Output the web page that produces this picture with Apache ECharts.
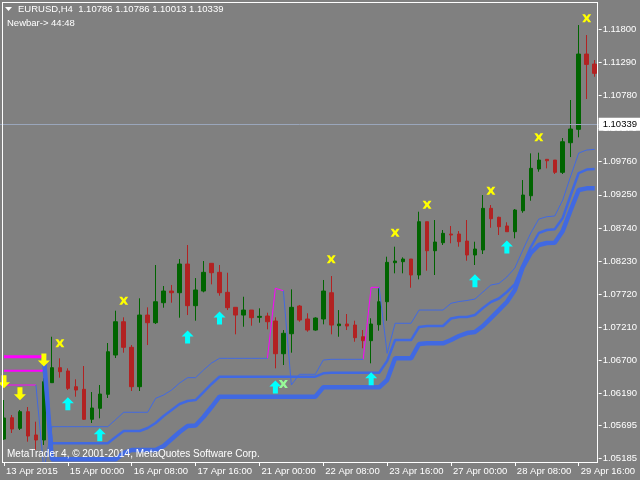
<!DOCTYPE html>
<html><head><meta charset="utf-8">
<script src="https://cdn.jsdelivr.net/npm/echarts@6/dist/echarts.min.js"></script>
<style>html,body{margin:0;padding:0;background:#808080}#c{width:640px;height:480px}</style>
</head><body><div id="c"></div><script>
// ---- data (EURUSD H4) ----
const barTimes = [
'13 Apr 16:00','13 Apr 20:00',
'14 Apr 00:00','14 Apr 04:00','14 Apr 08:00','14 Apr 12:00','14 Apr 16:00','14 Apr 20:00',
'15 Apr 00:00','15 Apr 04:00','15 Apr 08:00','15 Apr 12:00','15 Apr 16:00','15 Apr 20:00',
'16 Apr 00:00','16 Apr 04:00','16 Apr 08:00','16 Apr 12:00','16 Apr 16:00','16 Apr 20:00',
'17 Apr 00:00','17 Apr 04:00','17 Apr 08:00','17 Apr 12:00','17 Apr 16:00','17 Apr 20:00',
'20 Apr 00:00','20 Apr 04:00','20 Apr 08:00','20 Apr 12:00','20 Apr 16:00','20 Apr 20:00',
'21 Apr 00:00','21 Apr 04:00','21 Apr 08:00','21 Apr 12:00','21 Apr 16:00','21 Apr 20:00',
'22 Apr 00:00','22 Apr 04:00','22 Apr 08:00','22 Apr 12:00','22 Apr 16:00','22 Apr 20:00',
'23 Apr 00:00','23 Apr 04:00','23 Apr 08:00','23 Apr 12:00','23 Apr 16:00','23 Apr 20:00',
'24 Apr 00:00','24 Apr 04:00','24 Apr 08:00','24 Apr 12:00','24 Apr 16:00','24 Apr 20:00',
'27 Apr 00:00','27 Apr 04:00','27 Apr 08:00','27 Apr 12:00','27 Apr 16:00','27 Apr 20:00',
'28 Apr 00:00','28 Apr 04:00','28 Apr 08:00','28 Apr 12:00','28 Apr 16:00','28 Apr 20:00',
'29 Apr 00:00','29 Apr 04:00','29 Apr 08:00','29 Apr 12:00','29 Apr 16:00','29 Apr 20:00',
'30 Apr 00:00'];
const xTickLabels = ['13 Apr 2015','15 Apr 00:00','16 Apr 08:00','17 Apr 16:00','21 Apr 00:00',
  '22 Apr 08:00','23 Apr 16:00','27 Apr 00:00','28 Apr 08:00','29 Apr 16:00'];
const yTickValues = [1.05185,1.05695,1.06190,1.06700,1.07210,1.07720,1.08230,1.08740,1.09250,
  1.09760,1.10270,1.10780,1.11290,1.11800];

const opens = [1.05488,1.05816,1.05653,1.05909,1.05550,1.05473,1.06356,1.06587,1.06536,1.06294,
 1.06254,1.05792,1.05961,1.06177,1.06782,1.07295,1.06901,1.06294,1.07398,1.07280,
 1.07588,1.07768,1.07742,1.08184,1.07542,1.07768,1.08195,1.08056,1.07748,1.07517,
 1.07398,1.07475,1.07363,1.07383,1.07306,1.06802,1.07110,1.07537,1.07337,1.07167,
 1.07337,1.07742,1.07234,1.07260,1.07244,1.07064,1.07003,1.07249,1.07603,1.08204,
 1.08220,1.08261,1.08015,1.08836,1.08389,1.08512,1.08646,1.08646,1.08538,1.08323,
 1.08400,1.09042,1.08904,1.08770,1.08682,1.09005,1.09236,1.09648,1.09797,1.09786,
 1.09597,1.10053,1.10259,1.11419,1.11265];
const closes = [1.05812,1.05642,1.05909,1.05534,1.05473,1.06371,1.06587,1.06525,1.06269,1.06243,
 1.05792,1.05966,1.06181,1.06833,1.07295,1.06901,1.06294,1.07398,1.07280,1.07603,
 1.07768,1.07742,1.08184,1.07542,1.07784,1.08056,1.08050,1.07742,1.07511,1.07398,
 1.07475,1.07357,1.07378,1.07295,1.06802,1.07117,1.07517,1.07321,1.07167,1.07352,
 1.07768,1.07244,1.07260,1.07229,1.07049,1.07003,1.07260,1.07603,1.08210,1.08230,
 1.08261,1.08015,1.08836,1.08389,1.08523,1.08657,1.08631,1.08528,1.08323,1.08415,
 1.09042,1.08882,1.08759,1.08682,1.09016,1.09247,1.09658,1.09786,1.09775,1.09597,
 1.10068,1.10264,1.11419,1.11260,1.11122];
const lows = [1.05473,1.05581,1.05627,1.05447,1.05319,1.05396,1.06351,1.06433,1.06243,1.06140,
 1.05781,1.05735,1.05807,1.06120,1.06736,1.06818,1.06228,1.06228,1.06936,1.07260,
 1.07511,1.07588,1.07357,1.07398,1.07311,1.07748,1.07871,1.07696,1.07475,1.07101,
 1.07218,1.07234,1.07280,1.07178,1.06577,1.06628,1.06818,1.07295,1.07141,1.07157,
 1.07255,1.07101,1.07064,1.07167,1.06987,1.06886,1.06654,1.07157,1.07311,1.08041,
 1.08041,1.07819,1.07948,1.08081,1.08015,1.08477,1.08503,1.08451,1.08235,1.08169,
 1.08338,1.08743,1.08631,1.08682,1.08580,1.08974,1.09159,1.09606,1.09658,1.09571,
 1.09571,1.09832,1.10136,1.10726,1.11069];
const highs = [1.06089,1.05858,1.05935,1.05981,1.05755,1.06428,1.07064,1.06731,1.06577,1.06408,
 1.06613,1.06212,1.06320,1.06967,1.07465,1.07363,1.06936,1.07656,1.07517,1.08169,
 1.07845,1.07861,1.08261,1.08477,1.07968,1.08230,1.08195,1.08169,1.08050,1.07517,
 1.07680,1.07475,1.07502,1.07434,1.07363,1.07167,1.07794,1.07553,1.07425,1.07363,
 1.07938,1.07999,1.07475,1.07414,1.07311,1.07167,1.07348,1.07810,1.08297,1.08451,
 1.08287,1.08261,1.08990,1.08836,1.08862,1.08708,1.08770,1.08692,1.08862,1.08528,
 1.09247,1.09093,1.08913,1.08827,1.09031,1.09478,1.09889,1.09899,1.09802,1.09786,
 1.10125,1.10711,1.11866,1.11712,1.11327];

// trailing-stop lines (blue = up state, magenta = down state)
const thinUp = [null,null,null,null,1.06320,1.05011,
 1.05678,1.05678,1.05678,1.05678,1.05678,1.05678,1.05678,1.05678,
 1.05789,1.05900,1.05900,1.05900,1.05900,
 1.06115,1.06166,1.06243,1.06351,1.06433,1.06433,1.06551,1.06659,
 1.06731,1.06731,1.06731,1.06731,1.06731,1.06731,1.06731,
 null,1.07773,1.06320,1.06485,1.06485,1.06485,1.06705,
 1.06716,1.06716,1.06716,1.06716,1.06716,
 null,1.07825,1.06808,1.07271,1.07271,1.07271,
 1.07475,1.07475,1.07475,1.07475,
 1.07579,1.07606,1.07622,1.07645,1.07753,1.07861,1.07884,1.07984,1.08123,1.08400,
 1.08662,1.08877,1.08913,1.08924,1.09170,1.09540,1.09894,1.09940,1.09951];
const thinDnSegs = [[0,[1.06320,1.06320,1.06320,1.06320,1.06320]],
 [33,[1.06731,1.07810,1.07773]],[45,[1.06716,1.07825,1.07825]]];
const medUpStart = 5;
const medUp = [1.06540,
 1.05422,1.05422,1.05422,1.05422,1.05422,1.05422,1.05422,1.05422,
 1.05519,1.05611,1.05611,1.05611,1.05658,1.05735,1.05843,1.05935,1.06027,1.06074,1.06089,
 1.06212,1.06336,
 1.06448,1.06448,1.06448,1.06448,1.06448,1.06448,1.06448,1.06448,1.06448,1.06448,1.06448,1.06448,1.06448,
 1.06500,1.06510,1.06510,1.06510,1.06510,1.06510,1.06510,1.06510,
 1.06690,1.07013,1.07013,1.07013,1.07214,1.07229,1.07229,1.07229,
 1.07345,1.07368,1.07368,1.07398,1.07506,1.07599,1.07653,1.07753,1.07876,1.08169,
 1.08446,1.08662,1.08708,1.08719,1.08893,1.09247,1.09586,1.09640,1.09648];
const medDn = [1.06540,1.06540,1.06540,1.06540,1.06540,1.06540];
const thickUpStart = 5;
const thickUp = [1.06756,
 1.05176,1.05176,1.05176,1.05176,1.05176,1.05176,1.05176,1.05176,1.05176,
 1.05273,1.05319,1.05319,1.05319,1.05319,
 1.05380,1.05488,1.05596,1.05689,1.05696,1.05827,1.05981,
 1.06140,1.06140,1.06140,1.06140,1.06140,1.06140,1.06140,1.06140,1.06140,1.06140,1.06140,1.06140,1.06140,
 1.06285,1.06285,1.06285,1.06285,1.06285,1.06285,1.06285,1.06285,
 1.06397,1.06731,1.06731,1.06731,1.06952,1.06962,1.06962,1.06962,
 1.07013,1.07075,1.07121,1.07137,1.07229,1.07352,1.07475,1.07599,1.07784,1.08138,
 1.08354,1.08477,1.08508,1.08512,1.08692,1.09016,1.09324,1.09350,1.09350];
const thickDn = [1.06756,1.06756,1.06756,1.06756,1.06756,1.06756];

const upArrowBars = [8,12,23,27,34,46,59,63];
const upArrowPrices = [1.06030,1.05553,1.07060,1.07352,1.06289,1.06416,1.07927,1.08446];
const downArrowBars = [0,2,5];
const downArrowPrices = [1.06371,1.06186,1.06705];
const crossBars = [7,15,41,49,53,61,67,73];
const crossPrices = [1.06962,1.07619,1.08256,1.08666,1.09098,1.09313,1.10136,1.11969];
const greenCrossBars = [35];
const greenCrossPrices = [1.06336];
const lastPrice = 1.10339;
const headerText = 'EURUSD,H4  1.10786 1.10786 1.10013 1.10339';
const newbarText = 'Newbar-> 44:48';
const footerText = 'MetaTrader 4, \u00A9 2001-2014, MetaQuotes Software Corp.';

// ---- build ----
const N = barTimes.length;
function place(start, vals){ const a = new Array(N).fill(null); vals.forEach((v,i)=>{a[start+i]=v;}); return a; }
function placeSegs(segs){ const a = new Array(N).fill(null); segs.forEach(([s,vals])=>vals.forEach((v,i)=>{a[s+i]=v;})); return a; }
const ohlc = opens.map((o,i)=>[o, closes[i], lows[i], highs[i]]);
const pts = (bars, prices) => bars.map((b,i)=>[b, prices[i]]);

const FONT = 'Liberation Sans';
const BLUE = '#4169E1', MAG = '#FF00FF';
const UP = 'path://M6,0 L12,6 L8.5,6 L8.5,13 L3.5,13 L3.5,6 L0,6 Z';
const DOWN = 'path://M3.5,0 L8.5,0 L8.5,7 L12,7 L6,13 L0,7 L3.5,7 Z';
const CROSS = 'path://M0,0 L2.5,0 L4,2 L5.5,0 L8,0 L5.5,3.5 L8,7 L5.5,7 L4,5 L2.5,7 L0,7 L2.5,3.5 Z';

function lineSeries(data, color, width, z, extra){
  return Object.assign({type:'line', data, symbol:'none', connectNulls:false, animation:false, silent:true, z,
    lineStyle:{color, width}, clip:true}, extra||{});
}

const chart = echarts.init(document.getElementById('c'), null, {renderer:'canvas'});
chart.setOption({
  backgroundColor:'#808080',
  animation:false,
  grid:{left:-1, right:41, top:2, bottom:18, containLabel:false},
  xAxis:{type:'category', data:barTimes, boundaryGap:true,
    axisLine:{show:false},
    axisTick:{show:true, alignWithLabel:true, length:4, interval:(i)=>i%8===0, lineStyle:{color:'#fff'}},
    axisLabel:{interval:(i)=>i%8===0, formatter:(v,i)=>xTickLabels[i/8]||'', color:'#fff',
      fontFamily:FONT, fontSize:9.5, align:'left', margin:4, padding:[0,0,0,2]},
    splitLine:{show:false}},
  yAxis:{type:'value', position:'right', min:1.05134, max:1.12221, scale:true,
    axisLine:{show:false},
    axisTick:{show:true, length:3, customValues:yTickValues, lineStyle:{color:'#fff'}},
    axisLabel:{customValues:yTickValues, formatter:(v)=>v.toFixed(5), color:'#fff',
      fontFamily:FONT, fontSize:9.5, margin:4},
    splitLine:{show:false}},
  series:[
    {type:'candlestick', data:ohlc, barWidth:4, z:2, silent:true,
      itemStyle:{color:'#006400', color0:'#B22222', borderColor:'#006400', borderColor0:'#B22222', borderWidth:1}},
    lineSeries(placeSegs(thinDnSegs), MAG, 1, 3),
    lineSeries(medDn.concat(new Array(N-medDn.length).fill(null)), MAG, 2, 3),
    lineSeries(thickDn.concat(new Array(N-thickDn.length).fill(null)), MAG, 3, 3),
    lineSeries(thinUp, BLUE, 1, 3, {
      markLine:{silent:true, symbol:['none','none'], animation:false, precision:5,
        data:[{yAxis:lastPrice}],
        lineStyle:{color:'#9aa6bb', width:1, type:'solid'},
        label:{show:true, position:'end', distance:0, formatter:lastPrice.toFixed(5),
          backgroundColor:'#fff', color:'#000', fontFamily:FONT, fontSize:9.5, padding:[2,4,1,4]}}}),
    lineSeries(place(medUpStart, medUp), BLUE, 2.5, 3),
    lineSeries(place(thickUpStart, thickUp), BLUE, 4.5, 3),
    {type:'scatter', data:pts(upArrowBars, upArrowPrices), symbol:UP, symbolSize:[12,13], z:5, silent:true,
      itemStyle:{color:'#00FFFF', opacity:1}},
    {type:'scatter', data:pts(downArrowBars, downArrowPrices), symbol:DOWN, symbolSize:[12,13], z:5, silent:true,
      itemStyle:{color:'#FFFF00', opacity:1}},
    {type:'scatter', data:pts(crossBars, crossPrices), symbol:CROSS, symbolSize:[9,8], z:5, silent:true,
      itemStyle:{color:'#FFFF00', opacity:1}},
    {type:'scatter', data:pts(greenCrossBars, greenCrossPrices), symbol:CROSS, symbolSize:[9,8], z:5, silent:true,
      itemStyle:{color:'#98FB98', opacity:1}}
  ],
  graphic:[
    {type:'line', z:10, shape:{x1:2.5,y1:2,x2:2.5,y2:462}, style:{stroke:'#fff', lineWidth:1}},
    {type:'line', z:10, shape:{x1:2,y1:2.5,x2:598,y2:2.5}, style:{stroke:'#fff', lineWidth:1}},
    {type:'line', z:10, shape:{x1:597.5,y1:2,x2:597.5,y2:462}, style:{stroke:'#fff', lineWidth:1}},
    {type:'line', z:10, shape:{x1:2,y1:462.5,x2:598,y2:462.5}, style:{stroke:'#fff', lineWidth:1}},
    {type:'polygon', z:10, shape:{points:[[5,7],[12,7],[8.5,11]]}, style:{fill:'#fff'}},
    {type:'text', z:10, left:18, top:4, style:{text:headerText, fill:'#fff', font:'9.5px "Liberation Sans"'}},
    {type:'text', z:10, left:7, top:18, style:{text:newbarText, fill:'#fff', font:'9.5px "Liberation Sans"'}},
    {type:'text', z:10, left:7, top:449, style:{text:footerText, fill:'#fff', font:'10px "Liberation Sans"'}}
  ]
});
</script></body></html>
